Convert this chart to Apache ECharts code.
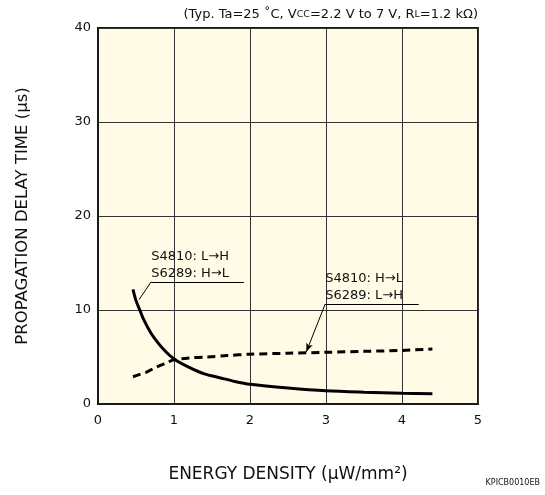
<!DOCTYPE html>
<html>
<head>
<meta charset="utf-8">
<script src="https://cdn.jsdelivr.net/npm/echarts@6/dist/echarts.min.js"></script>
<style>
  html, body { margin: 0; padding: 0; background: #fff; }
  #chart { width: 545px; height: 495px; }
</style>
</head>
<body>
<div id="chart"></div>
<script>
// x: energy density (uW/mm2), y: propagation delay time (us)
const solidX = [0.46, 0.5, 0.55, 0.6, 0.7, 0.8, 0.9, 1.0, 1.2, 1.4, 1.6, 1.8, 2.0, 2.5, 3.0, 3.5, 4.0, 4.4]
const solidY = [12.2, 11.0, 10.0, 9.0, 7.5, 6.4, 5.5, 4.8, 3.9, 3.2, 2.8, 2.4, 2.1, 1.7, 1.4, 1.25, 1.15, 1.1]
const dashX = [0.46, 0.55, 0.64, 0.75, 0.91, 1.0, 1.2, 1.43, 1.7, 2.0, 2.5, 3.0, 3.5, 4.0, 4.4]
const dashY = [2.9, 3.15, 3.4, 3.85, 4.4, 4.7, 4.9, 5.0, 5.15, 5.3, 5.4, 5.5, 5.6, 5.7, 5.85]
const xTicks = [0, 1, 2, 3, 4, 5]
const yTicks = [0, 10, 20, 30, 40]

// annotation anchors in data units
const note1Lines = ['S4810: L→H', 'S6289: H→L']
const note1Under = [[0.70, 13.0], [1.92, 13.0]]
const note1Leader = [[0.70, 13.0], [0.54, 11.1]]
const note2Lines = ['S4810: H→L', 'S6289: L→H']
const note2Under = [[2.99, 10.64], [4.22, 10.64]]
const note2Leader = [[2.99, 10.64], [2.74, 5.53]]

const FONT = 'DejaVu Sans, Liberation Sans, sans-serif'
const chart = echarts.init(document.getElementById('chart'))

const zip = (xs, ys) => xs.map((x, i) => [x, ys[i]])
const seg = (pts) => [{ coord: pts[0] }, { coord: pts[1] }]

chart.setOption({
  animation: false,
  textStyle: { fontFamily: FONT },
  title: {
    text: '{n|(Typ. Ta=25 ˚C, V}{s|CC}{n|=2.2 V to 7 V, R}{s|L}{n|=1.2 kΩ)}',
    right: 62,
    top: 3,
    textStyle: {
      fontWeight: 'normal',
      rich: {
        n: { fontSize: 13, color: '#111', fontFamily: FONT, fontWeight: 'normal' },
        s: { fontSize: 9.5, color: '#111', fontFamily: FONT, fontWeight: 'normal' }
      }
    }
  },
  grid: {
    left: 98, right: 67, top: 28, bottom: 91,
    show: true,
    backgroundColor: '#fffbe6',
    borderColor: '#1a1a1a',
    borderWidth: 2
  },
  xAxis: {
    type: 'value',
    min: 0, max: 5, interval: 1,
    name: 'ENERGY DENSITY (µW/mm²)',
    nameLocation: 'middle',
    nameGap: 62,
    nameTextStyle: { fontSize: 17, color: '#111', fontFamily: FONT },
    axisLine: { show: true, lineStyle: { color: '#1a1a1a', width: 2 } },
    axisTick: { show: false },
    axisLabel: {
      fontSize: 13, color: '#111', margin: 10,
      formatter: v => xTicks.includes(v) ? String(v) : ''
    },
    splitLine: { show: true, lineStyle: { color: '#333', width: 1 } }
  },
  yAxis: {
    type: 'value',
    min: 0, max: 40, interval: 10,
    name: 'PROPAGATION DELAY TIME (µs)',
    nameLocation: 'middle',
    nameGap: 67,
    nameTextStyle: { fontSize: 16.5, color: '#111', fontFamily: FONT },
    axisLine: { show: true, lineStyle: { color: '#1a1a1a', width: 2 } },
    axisTick: { show: false },
    axisLabel: {
      fontSize: 13, color: '#111', margin: 7,
      formatter: v => yTicks.includes(v) ? String(v) : ''
    },
    splitLine: { show: true, lineStyle: { color: '#333', width: 1 } }
  },
  series: [
    {
      name: 'solid',
      type: 'line',
      data: zip(solidX, solidY),
      smooth: 0.3,
      showSymbol: false,
      lineStyle: { color: '#000', width: 3 },
      markLine: {
        silent: true,
        symbol: ['none', 'none'],
        lineStyle: { color: '#000', width: 1, type: 'solid' },
        label: { show: false },
        data: [seg(note1Under), seg(note1Leader)]
      }
    },
    {
      name: 'dashed',
      type: 'line',
      data: zip(dashX, dashY),
      smooth: 0.3,
      showSymbol: false,
      lineStyle: { color: '#000', width: 3, type: [8, 5] },
      markLine: {
        silent: true,
        symbol: ['none', 'none'],
        lineStyle: { color: '#000', width: 1, type: 'solid' },
        label: { show: false },
        data: [seg(note2Under)]
      }
    },
    {
      name: 'arrow',
      type: 'line',
      data: [],
      markLine: {
        silent: true,
        symbol: ['none', 'arrow'],
        symbolSize: [5, 9],
        lineStyle: { color: '#000', width: 1, type: 'solid' },
        label: { show: false },
        data: [seg(note2Leader)]
      }
    }
  ]
})

// note texts sit just above their underline, left aligned with it
const noteText = (lines, under) => {
  const p = chart.convertToPixel({ gridIndex: 0 }, under[0])
  return lines.map((t, i) => ({
    type: 'text',
    x: p[0],
    y: p[1] - 8 - (lines.length - 1 - i) * 17.5,
    style: { text: t, fontSize: 13, fill: '#111', fontFamily: FONT, verticalAlign: 'middle' }
  }))
}

chart.setOption({
  graphic: [
    ...noteText(note1Lines, note1Under),
    ...noteText(note2Lines, note2Under),
    {
      type: 'text',
      right: 5,
      bottom: 8,
      style: { text: 'KPICB0010EB', fontSize: 8, fill: '#111', fontFamily: FONT }
    }
  ]
})
</script>
</body>
</html>
